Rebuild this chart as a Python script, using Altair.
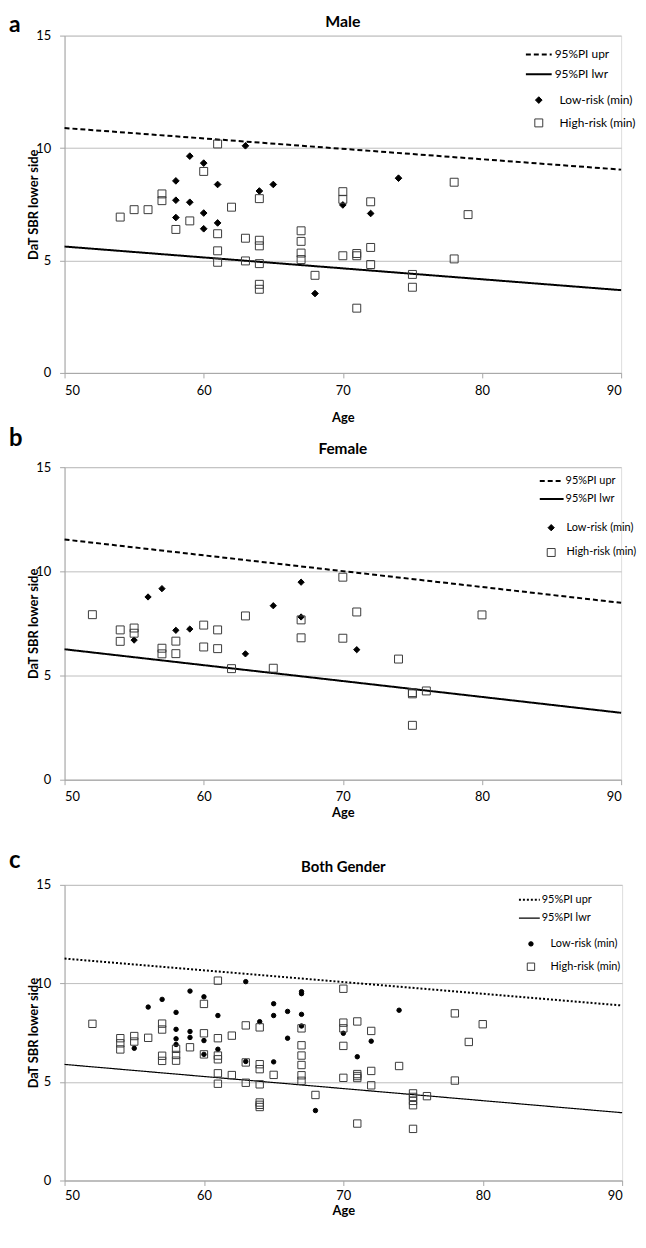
import altair as alt
import pandas as pd

# ---------------- data ----------------
AGE_TICKS = [50, 60, 70, 80, 90]
SBR_TICKS = [0, 5, 10, 15]
LINE_NAMES = ["95%PI upr", "95%PI lwr"]
RISK_NAMES = ["Low-risk (min)", "High-risk (min)"]
LINE_AGES = [50, 90]

# a: Male
male_low_age = [63, 59, 60, 58, 61, 64, 65, 58, 59, 58, 60, 60, 61, 68, 70, 72, 74]
male_low_val = [10.10, 9.64, 9.33, 8.54, 8.38, 8.09, 8.38, 7.68, 7.59, 6.91, 7.11, 6.41, 6.67, 3.53, 7.47, 7.09, 8.66]
male_high_age = [61, 60, 57, 57, 54, 55, 56, 59, 58, 62,
                 64, 61, 61, 61, 63, 63, 64, 64, 64, 64,
                 64, 67, 67, 67, 67, 68, 70, 70, 72, 70,
                 71, 71, 72, 72, 71, 75, 75, 78, 78, 79]
male_high_val = [10.18, 8.96, 7.96, 7.66, 6.93, 7.26, 7.26, 6.76, 6.38, 7.37,
                 7.75, 6.19, 5.43, 4.92, 5.99, 4.98, 5.90, 5.65, 4.86, 3.94,
                 3.72, 6.32, 5.85, 5.33, 5.04, 4.34, 8.06, 7.72, 7.61, 5.21,
                 5.31, 5.21, 5.58, 4.82, 2.88, 4.38, 3.81, 8.48, 5.07, 7.04]
male_upr = [10.89, 9.04]
male_lwr = [5.62, 3.68]

# b: Female
female_low_age = [56, 57, 55, 58, 59, 63, 65, 67, 67, 71]
female_low_val = [8.77, 9.17, 6.70, 7.17, 7.23, 6.04, 8.35, 9.48, 7.81, 6.24]
female_high_age = [52, 54, 54, 55, 55, 57, 57, 58, 58, 60,
                   60, 61, 61, 62, 63, 65, 67, 67, 70, 70,
                   71, 74, 75, 75, 76, 75, 80]
female_high_val = [7.92, 7.19, 6.64, 7.28, 7.03, 6.31, 6.04, 6.65, 6.05, 7.42,
                   6.37, 7.19, 6.29, 5.33, 7.86, 5.35, 7.67, 6.81, 9.72, 6.79,
                   8.05, 5.79, 4.18, 4.12, 4.26, 2.61, 7.91]
female_upr = [11.53, 8.49]
female_lwr = [6.26, 3.21]

# c: Both Gender
both_low_age = [55, 56, 57, 58, 58, 58, 58, 59, 59, 59,
                60, 60, 60, 61, 61, 63, 63, 64, 65, 65,
                65, 66, 66, 67, 67, 67, 67, 68, 70, 71,
                72, 74]
both_low_val = [6.71, 8.80, 9.19, 8.53, 7.67, 7.19, 6.90, 9.61, 7.56, 7.26,
                9.32, 7.10, 6.40, 8.37, 6.66, 10.09, 6.04, 8.06, 8.97, 8.37,
                6.02, 8.58, 7.22, 9.58, 9.48, 8.43, 7.84, 3.55, 7.47, 6.28,
                7.07, 8.64]
both_high_age = [52, 54, 54, 54, 55, 55, 56, 57, 57, 57,
                 57, 58, 58, 58, 59, 60, 60, 60, 61, 61,
                 61, 61, 61, 61, 62, 62, 63, 63, 63, 64,
                 64, 64, 64, 64, 64, 64, 65, 67, 67, 67,
                 67, 67, 67, 68, 70, 70, 70, 70, 70, 71,
                 71, 71, 71, 71, 72, 72, 72, 74, 75, 75,
                 75, 75, 75, 76, 78, 78, 79, 80]
both_high_val = [7.95, 7.22, 6.96, 6.65, 7.33, 7.05, 7.24, 7.96, 7.66, 6.33,
                 6.07, 6.68, 6.37, 6.08, 6.76, 8.96, 7.47, 6.40, 10.14, 7.22,
                 6.34, 6.15, 5.44, 4.91, 7.35, 5.35, 7.87, 5.99, 4.96, 7.77,
                 5.90, 5.65, 4.88, 3.96, 3.84, 3.73, 5.36, 7.72, 6.86, 6.34,
                 5.86, 5.34, 5.06, 4.34, 9.73, 8.01, 7.72, 6.83, 5.21, 8.07,
                 5.40, 5.30, 5.20, 2.89, 7.59, 5.56, 4.83, 5.81, 4.42, 4.24,
                 4.04, 3.82, 2.62, 4.28, 8.48, 5.07, 7.03, 7.93]
both_upr = [11.26, 8.88]
both_lwr = [5.89, 3.44]

FONT = "Lato"
AXIS_GRAY = "#a6a6a6"
GRID_GRAY = "#bdbdbd"
IND = dict(strokeDash="independent", strokeWidth="independent", shape="independent",
           fill="independent", stroke="independent", size="independent")


def panel(letter, title, low_age, low_val, high_age, high_val, upr, lwr,
          w, h, o):
    pts = pd.DataFrame({
        "Age": list(low_age) + list(high_age),
        "SBR": list(low_val) + list(high_val),
        "risk": [RISK_NAMES[0]] * len(low_age) + [RISK_NAMES[1]] * len(high_age),
    })
    lines = pd.DataFrame({
        "Age": LINE_AGES + LINE_AGES,
        "SBR": list(upr) + list(lwr),
        "line": [LINE_NAMES[0]] * 2 + [LINE_NAMES[1]] * 2,
    })
    xs = alt.Scale(domain=[50, 90], nice=False, zero=False)
    ys = alt.Scale(domain=[0, 15], nice=False)
    xax = alt.Axis(values=AGE_TICKS, grid=False, title="Age", titleFont=FONT,
                   titleFontSize=13, titleFontWeight="bold", titleColor="black",
                   titlePadding=o["xtp"], labelFont=FONT, labelFontSize=13,
                   labelColor="black", labelPadding=o["xlp"], tickSize=5,
                   tickColor=AXIS_GRAY, domainColor=AXIS_GRAY)
    yax = alt.Axis(values=SBR_TICKS, grid=True, gridColor=GRID_GRAY,
                   title="DaT SBR lower side", titleFont=FONT, titleFontSize=13,
                   titleFontWeight="bold", titleColor="black", titleX=-27,
                   titleBaseline="alphabetic", labelFont=FONT, labelFontSize=13,
                   labelColor="black", labelPadding=9, tickSize=5,
                   tickColor=AXIS_GRAY, domainColor=AXIS_GRAY)

    line_leg = alt.Legend(orient="none", legendX=o["llx"], legendY=o["lly"],
                          title=None, labelFont=FONT, labelFontSize=o["lfs"],
                          labelColor="black", rowPadding=o["lrp"],
                          symbolType="stroke", symbolSize=o["lsym"] ** 2,
                          symbolStrokeColor="black", labelOffset=o["lloff"],
                          padding=0)
    line_layer = alt.Chart(lines).mark_line(color="black").encode(
        x=alt.X("Age:Q", scale=xs, axis=xax),
        y=alt.Y("SBR:Q", scale=ys, axis=yax),
        strokeDash=alt.StrokeDash("line:N", scale=alt.Scale(domain=LINE_NAMES,
                                  range=o["dash"]), legend=line_leg),
        strokeWidth=alt.StrokeWidth("line:N", scale=alt.Scale(domain=LINE_NAMES,
                                    range=o["lw"]), legend=line_leg),
        detail="line:N",
    )
    pt_leg = alt.Legend(orient="none", legendX=o["plx"], legendY=o["ply"],
                        title=None, labelFont=FONT, labelFontSize=o["lfs"],
                        labelColor="black", rowPadding=o["prp"],
                        labelOffset=o["ploff"], padding=0, symbolStrokeWidth=1)
    pt_layer = alt.Chart(pts).mark_point(filled=True, strokeWidth=1, opacity=1).encode(
        x=alt.X("Age:Q", scale=xs),
        y=alt.Y("SBR:Q", scale=ys),
        shape=alt.Shape("risk:N", scale=alt.Scale(domain=RISK_NAMES,
                        range=[o["lowshape"], "square"]), legend=pt_leg),
        fill=alt.Fill("risk:N", scale=alt.Scale(domain=RISK_NAMES,
                      range=["#000000", "transparent"]), legend=pt_leg),
        stroke=alt.Stroke("risk:N", scale=alt.Scale(domain=RISK_NAMES,
                          range=["#000000", "#3a3a3a"]), legend=pt_leg),
        size=alt.Size("risk:N", scale=alt.Scale(domain=RISK_NAMES,
                      range=o["sizes"]), legend=pt_leg),
    )
    letter_layer = alt.Chart(pd.DataFrame({"t": [letter]})).mark_text(
        font=FONT, fontSize=o["letfs"], fontWeight="bold", align="left",
        baseline="alphabetic", color="black").encode(
        x=alt.value(-56), y=alt.value(o["lety"]), text="t:N")
    title_layer = alt.Chart(pd.DataFrame({"t": [title]})).mark_text(
        font=FONT, fontSize=o["tfs"], fontWeight="bold", align="center",
        baseline="alphabetic", color="black").encode(
        x=alt.value(w / 2), y=alt.value(o["ty"]), text="t:N")
    return alt.layer(line_layer, pt_layer, letter_layer, title_layer).resolve_scale(
        **IND).properties(width=w, height=h)


pa = panel("a", "Male", male_low_age, male_low_val, male_high_age, male_high_val,
           male_upr, male_lwr, 561, 340,
           dict(xtp=13.5, xlp=7, llx=464, lly=5, lfs=12, lrp=-2, lsym=26, lloff=2,
                dash=[[5, 3], [1, 0]], lw=[2, 2], plx=472, ply=59, prp=11,
                ploff=15, lowshape="diamond", sizes=[45, 64], letfs=23, lety=-4,
                tfs=16, ty=-9))
pb = panel("b", "Female", female_low_age, female_low_val, female_high_age,
           female_high_val, female_upr, female_lwr, 561, 315,
           dict(xtp=3.5, xlp=5.5, llx=478, lly=1, lfs=11, lrp=0, lsym=24, lloff=1,
                dash=[[5, 3], [1, 0]], lw=[2, 2], plx=485, ply=55.5, prp=13,
                ploff=10, lowshape="diamond", sizes=[40, 64], letfs=24, lety=-21,
                tfs=15.5, ty=-13))
pc = panel("c", "Both Gender", both_low_age, both_low_val, both_high_age,
           both_high_val, both_upr, both_lwr, 562, 298,
           dict(xtp=2, xlp=4, llx=457, lly=3.5, lfs=11, lrp=1.6, lsym=21, lloff=1,
                dash=[[2, 2], [1, 0]], lw=[2, 1.2], plx=464.6, ply=54, prp=11,
                ploff=14.3, lowshape="circle", sizes=[20, 55], letfs=24, lety=-17,
                tfs=15, ty=-13))

top_pair = alt.vconcat(pa, pb, spacing=2).resolve_scale(**IND).resolve_legend(**IND)
chart = alt.vconcat(top_pair, pc, spacing=28).resolve_scale(**IND).resolve_legend(
    **IND
).properties(
    padding=0,
    background="white",
).configure_view(strokeOpacity=0).configure(font=FONT)

chart.save("out.html", embed_options={"renderer": "svg", "actions": False})
